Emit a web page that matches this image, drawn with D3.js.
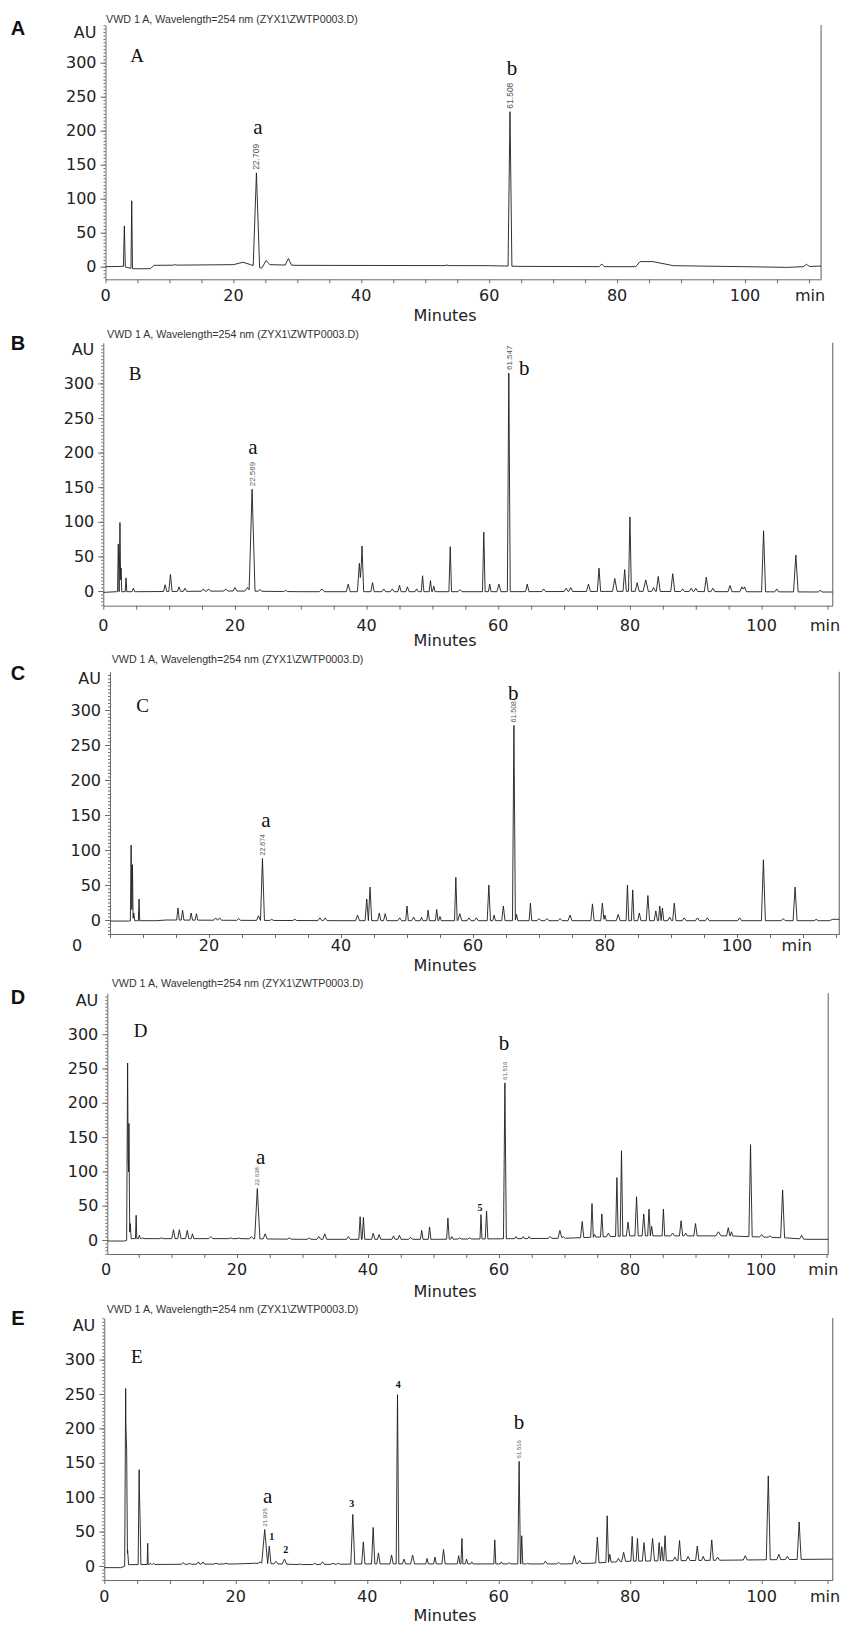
<!DOCTYPE html>
<html>
<head>
<meta charset="utf-8">
<script src="https://cdn.jsdelivr.net/npm/d3@7"></script>
<style>
    body { margin: 0; background: #fff; }
</style>
</head>
<body>
<div id="chart"></div>
<script>
// peaks: [retention time (min), apex height (AU), half base width (min)]
const peaksA = [
    [2.95, 60, 0.15], [4.1, 97, 0.12], [10.9, 3, 0.3],
    [23.6, 138, 0.5], [25.1, 9, 0.6], [28.6, 12, 0.5],
    [53.4, 2.5, 0.3], [63.25, 228, 0.3], [77.6, 4, 0.4], [109.6, 3.5, 0.5]
];
const baselineA = [[0, 0], [2.7, 0.5], [4.3, -3], [7, -3], [7.6, 2], [20, 3], [21.5, 6.5], [22.7, 3],
    [24.3, -2], [25.6, 3], [30, 2], [60, 1.5], [65, 0.5], [80, 0], [82.9, 0], [83.6, 7.5],
    [85.6, 7.5], [88.8, 1.5], [100, 0], [106.5, -1], [111.9, 1]];

const peaksB = [
    [2.28, 68, 0.12], [2.53, 99, 0.12], [2.7, 33, 0.1], [3.45, 19, 0.12], [4.57, 4, 0.2],
    [9.4, 9, 0.25], [10.2, 24, 0.25], [11.5, 6, 0.25], [12.4, 4, 0.25], [15.2, 3, 0.3], [16, 3, 0.3],
    [18.6, 3, 0.3], [20, 5, 0.3], [21.9, 5, 0.4], [22.6, 147, 0.45], [23.8, 2, 0.3], [27.7, 1, 0.3],
    [33.2, 3, 0.4], [37.2, 10, 0.3], [38.9, 40, 0.3], [39.3, 65, 0.25], [40.9, 12, 0.25],
    [42.6, 3, 0.3], [43.9, 3, 0.3], [45, 8, 0.25], [46.2, 6, 0.25], [47.6, 3, 0.25],
    [48.5, 22, 0.2], [49.7, 15, 0.2], [50.2, 7, 0.2], [52.7, 64, 0.2], [54.2, 2, 0.3],
    [57.8, 85, 0.2], [58.7, 10, 0.2], [60.1, 10, 0.3], [61.6, 315, 0.22],
    [64.4, 10, 0.25], [66.9, 3, 0.3], [70.3, 4, 0.3], [71, 5, 0.3], [73.7, 10, 0.3],
    [75.3, 33, 0.25], [77.7, 18, 0.35], [79.2, 31, 0.25], [80, 107, 0.22], [81.1, 12, 0.3],
    [82.4, 16, 0.4], [83.6, 5, 0.3], [84.3, 21, 0.3], [86.5, 25, 0.3], [88, 3, 0.3],
    [89.3, 4, 0.3], [90, 4, 0.3], [91.6, 20, 0.3], [92.6, 4, 0.3], [95.2, 8, 0.3],
    [97, 6, 0.3], [97.4, 6, 0.3], [100.3, 87, 0.3], [102.3, 3, 0.3], [105.2, 52, 0.35], [108.9, 1, 0.3]
];
const baselineB = [[0, -2], [2, -1], [5, -1], [20, 0], [30, -1], [50, -1], [60, -1], [80, -0.5], [110.8, -1.5]];

const peaksC = [
    [8.2, 107, 0.12], [8.4, 79, 0.1], [8.6, 10, 0.15], [9.4, 30, 0.1],
    [15.3, 17, 0.2], [16, 14, 0.2], [17.3, 10, 0.2], [18.1, 9, 0.2], [21, 3, 0.3], [21.6, 3, 0.3],
    [24.5, 2, 0.3], [27.5, 6, 0.3], [28.1, 88, 0.3], [29.5, 1, 0.3], [33, 1, 0.3], [36.8, 3, 0.3],
    [37.6, 3, 0.3], [42.5, 7, 0.3], [43.9, 30, 0.25], [44.4, 47, 0.25], [45.8, 10, 0.25],
    [46.7, 9, 0.25], [48.9, 3, 0.3], [50, 20, 0.2], [51, 4, 0.3],
    [52.2, 4, 0.2], [53.2, 14, 0.2], [54.5, 15, 0.2], [55, 5, 0.2], [57.4, 61, 0.2], [58, 9, 0.3],
    [59.4, 3, 0.3], [60.5, 3, 0.3], [62.4, 50, 0.25], [63.2, 7, 0.2], [64.6, 20, 0.25],
    [66.2, 278, 0.22], [66.6, 8, 0.2], [68.7, 24, 0.2], [70, 2, 0.3], [71.2, 2, 0.3],
    [73.2, 2, 0.3], [74.7, 7, 0.3], [78.1, 23, 0.25], [79.6, 24, 0.25], [80, 7, 0.2], [82, 8, 0.3],
    [83.4, 50, 0.2], [84.2, 43, 0.2], [85.2, 10, 0.25], [86.5, 35, 0.25], [87.7, 13, 0.25],
    [88.3, 20, 0.2], [88.7, 17, 0.2], [89.8, 4, 0.3], [90.5, 24, 0.25], [92, 3, 0.3], [94, 3, 0.3],
    [95.5, 3, 0.3], [100.4, 3, 0.3], [104, 86, 0.3], [107, 2, 0.3], [108.8, 47, 0.3], [112, 1, 0.3]
];
const baselineC = [[5, -1.5], [7.8, -1.5], [9, -1], [12, -1], [13.5, 0], [25, -0.5], [40, -1],
    [60, -1], [100, -1], [114, -1], [114.5, 1], [115.5, 1]];

const peaksD = [
    [3.3, 258, 0.15], [3.5, 170, 0.12], [3.7, 24, 0.15], [4.6, 36, 0.1], [5.1, 7, 0.15], [5.6, 3, 0.2],
    [8.5, 3, 0.3], [10.3, 15, 0.25], [11.2, 15, 0.25], [12.4, 14, 0.25], [13.2, 9, 0.2], [16, 5, 0.3],
    [19, 3, 0.3], [20.3, 3, 0.3], [22.2, 5, 0.3], [23.1, 75, 0.4], [24.3, 9, 0.3], [28, 3, 0.3],
    [31, 3, 0.3], [32.5, 5, 0.3], [33.4, 9, 0.3], [37, 5, 0.3], [38.8, 34, 0.2], [39.3, 33, 0.2],
    [40.8, 10, 0.25], [41.7, 8, 0.25], [43.9, 6, 0.25], [44.8, 7, 0.25], [46.5, 4, 0.3],
    [48.2, 14, 0.2], [49.4, 19, 0.2], [52.2, 32, 0.2], [52.8, 5, 0.2], [54, 3, 0.3], [55.5, 3, 0.3],
    [57.25, 37, 0.15], [58.1, 42, 0.2], [60.9, 229, 0.22], [62.6, 5, 0.2], [63.7, 5, 0.2],
    [64.6, 5, 0.2], [67.8, 5, 0.3], [69.3, 14, 0.3], [69.8, 5, 0.3], [72.7, 27, 0.25],
    [74.2, 53, 0.2], [74.6, 8, 0.2], [75.7, 38, 0.2], [76.7, 10, 0.3], [78, 91, 0.2], [78.7, 130, 0.2],
    [79.7, 26, 0.25], [81, 63, 0.25], [82.1, 38, 0.25], [82.9, 45, 0.2], [83.3, 20, 0.2],
    [85.1, 45, 0.2], [86.5, 10, 0.3], [87.8, 28, 0.25], [88.5, 10, 0.25], [90, 24, 0.25],
    [93.5, 12, 0.4], [95, 18, 0.25], [95.5, 12, 0.2], [96.8, 5, 0.3], [98.4, 139, 0.25],
    [100.1, 8, 0.3], [101.4, 6, 0.3], [103.3, 73, 0.3], [106.2, 7, 0.3]
];
const baselineD = [[0.2, -1.5], [2.8, -1.5], [4, 2], [20, 2], [30, 1], [50, 1], [70, 2.5], [80, 6],
    [95, 6], [104, 3], [107, 1], [110.27, 1]];

const peaksE = [
    [3.25, 258, 0.15], [3.4, 169, 0.12], [3.55, 23, 0.15], [5.3, 140, 0.15], [5.45, 64, 0.12],
    [6.6, 33, 0.08], [7, 4, 0.2], [7.5, 4, 0.2], [12, 5, 0.25], [13, 4, 0.25], [14.3, 6, 0.25],
    [15, 6, 0.25], [17, 4, 0.3], [18.5, 4, 0.3], [23.7, 6, 0.3], [24.4, 53, 0.45], [25.1, 29, 0.25],
    [26.1, 7, 0.3], [27.4, 10, 0.35], [29.8, 3, 0.3], [32, 4, 0.3], [33.2, 6, 0.3], [34.8, 4, 0.3],
    [35.6, 4, 0.3], [37.8, 75, 0.3], [39.4, 35, 0.25], [40.9, 56, 0.25], [41.7, 19, 0.25],
    [43.7, 16, 0.25], [44.6, 249, 0.2], [45.6, 10, 0.25], [46.9, 16, 0.3],
    [49.1, 11, 0.2], [50.3, 13, 0.2], [51.6, 24, 0.25], [53.9, 15, 0.2], [54.4, 40, 0.15],
    [55.1, 10, 0.2], [55.9, 6, 0.2], [59.4, 38, 0.15], [60.4, 6, 0.2], [61.6, 5, 0.2],
    [63.1, 152, 0.2], [63.5, 44, 0.15], [64.4, 4, 0.2], [67.1, 7, 0.3], [69.1, 5, 0.3],
    [71.5, 15, 0.3], [72.3, 8, 0.3], [75, 42, 0.25], [76.5, 73, 0.2], [76.9, 17, 0.2],
    [78.2, 11, 0.3], [79, 20, 0.3], [80.3, 43, 0.2], [81.1, 40, 0.2], [82.1, 34, 0.25],
    [83.4, 40, 0.3], [84.4, 34, 0.2], [84.8, 28, 0.2], [85.3, 44, 0.2], [86.8, 13, 0.3],
    [87.5, 37, 0.25], [88.8, 14, 0.3], [90.2, 29, 0.25], [91.1, 14, 0.25], [92.4, 38, 0.25],
    [93.3, 13, 0.3], [97.5, 15, 0.3], [101, 131, 0.3], [102.6, 17, 0.3], [103.9, 14, 0.3], [105.7, 64, 0.3]
];
const baselineE = [[0, -2.4], [2.5, -2.4], [3.8, 2], [20, 3], [23, 4], [30, 2], [40, 3], [60, 3],
    [70, 3], [74, 4], [80, 7], [100, 9], [110.8, 10]];

// retention time labels printed over the main peaks: [text, time, apex]
const rtA = [["22.709", 23.6, 138], ["61.508", 63.25, 228]];
const rtB = [["22.569", 22.6, 147], ["61.547", 61.6, 315]];
const rtC = [["22.674", 28.1, 88], ["61.508", 66.2, 278]];
const rtD = [["22.638", 23.1, 75], ["61.516", 60.9, 229]];
const rtE = [["21.925", 24.4, 53], ["61.516", 63.1, 152]];

// annotations: [text, time, AU, kind]
const notesA = [["A", 4.93, 311, "tag"], ["a", 23.85, 205, "pk"], ["b", 63.57, 292, "pk"]];
const notesB = [["B", 4.82, 314.6, "tag"], ["a", 22.74, 208.5, "pk"], ["b", 63.95, 321.8, "pk"]];
const notesC = [["C", 9.95, 307, "tag"], ["a", 28.64, 142.9, "pk"], ["b", 66.1, 323.9, "pk"]];
const notesD = [["D", 5.3, 305, "tag"], ["a", 23.62, 121.4, "pk"], ["b", 60.76, 286.7, "pk"], ["5", 57.1, 47.7, "num"]];
const notesE = [["E", 4.93, 304.2, "tag"], ["a", 24.86, 102.2, "pk"], ["b", 63.08, 209.7, "pk"],
    ["1", 25.46, 42.6, "num"], ["2", 27.6, 24.3, "num"], ["3", 37.63, 91.1, "num"], ["4", 44.72, 264.1, "num"]];

const xTickLabels = [0, 20, 40, 60, 80, 100];
const yTickLabels = [0, 50, 100, 150, 200, 250, 300];
const header = "VWD 1 A, Wavelength=254 nm (ZYX1\\ZWTP0003.D)";

const panels = [
    { id: "A", peaks: peaksA, base: baselineA, rt: rtA, notes: notesA,
      x0: 105.5, k: 6.395, t0: 0, t1: 111.9, y0: 266.7, ky: 0.68, yB: 279.3, yT: 25,
      head: [106, 19], tag: 28, labDy: 16, minX: 810, minutesY: 315, rtSize: 8.5 },
    { id: "B", peaks: peaksB, base: baselineB, rt: rtB, notes: notesB,
      x0: 103.3, k: 6.583, t0: 0, t1: 110.8, y0: 591, ky: 0.692, yB: 605.7, yT: 342.7,
      head: [107, 334], tag: 343, labDy: 20, minX: 825, minutesY: 640.7, rtSize: 8 },
    { id: "C", peaks: peaksC, base: baselineC, rt: rtC, notes: notesC,
      x0: 77, k: 6.6, t0: 5, t1: 115.5, y0: 920, ky: 0.70, yB: 934, yT: 671.7,
      head: [111.7, 659.3], tag: 672.7, labDy: 11, minX: 796.7, minutesY: 965, rtSize: 7 },
    { id: "D", peaks: peaksD, base: baselineD, rt: rtD, notes: notesD,
      x0: 106, k: 6.55, t0: 0.2, t1: 110.27, y0: 1240, ky: 0.686, yB: 1254, yT: 993.3,
      head: [111.7, 983.3], tag: 996.7, labDy: 15, minX: 823.3, minutesY: 1291.7, rtSize: 6 },
    { id: "E", peaks: peaksE, base: baselineE, rt: rtE, notes: notesE,
      x0: 104.3, k: 6.574, t0: 0, t1: 110.8, y0: 1566, ky: 0.688, yB: 1580, yT: 1318,
      head: [106.7, 1309], tag: 1318.3, labDy: 16, minX: 825, minutesY: 1615, rtSize: 6 }
];

const sans = "DejaVu Sans, sans-serif";
const arial = "Liberation Sans, Arial, sans-serif";
const serif = "Liberation Serif, Times New Roman, serif";

const svg = d3.select("#chart")
    .append("svg")
    .attr("width", 842)
    .attr("height", 1626);

// trace = baseline plus triangular peaks (upper envelope)
function trace(p) {
    const baseAt = d3.scaleLinear()
        .domain(p.base.map(d => d[0]))
        .range(p.base.map(d => d[1]))
        .clamp(true);
    let ts = p.base.map(d => d[0]);
    p.peaks.forEach(([t, h, w]) => ts.push(t - w, t, t + w));
    ts = Array.from(new Set(ts.filter(t => t >= p.t0 && t <= p.t1))).sort((a, b) => a - b);
    return ts.map(t => {
        const b = baseAt(t);
        let v = b;
        p.peaks.forEach(([pt, h, w]) => {
            const f = 1 - Math.abs(t - pt) / w;
            if (f > 0) v = Math.max(v, b + (h - baseAt(pt)) * f);
        });
        return [t, v];
    });
}

panels.forEach(p => {
    const g = svg.append("g").attr("class", "panel-" + p.id);

    const v0 = (p.y0 - p.yB) / p.ky;   // below zero
    const v1 = (p.y0 - p.yT) / p.ky;
    const x = d3.scaleLinear().domain([p.t0, p.t1]).range([p.x0 + p.k * p.t0, p.x0 + p.k * p.t1]);
    const y = d3.scaleLinear().domain([v0, v1]).range([p.yB, p.yT]);
    const axX = x(p.t0);

    // right frame line
    g.append("line")
        .attr("x1", x(p.t1)).attr("x2", x(p.t1))
        .attr("y1", p.yT).attr("y2", p.yB)
        .attr("stroke", "#8a8a8a")
        .attr("stroke-width", 1.4);

    // x axis
    const xAxis = g.append("g")
        .attr("transform", `translate(0,${p.yB})`)
        .call(d3.axisBottom(x)
            .tickValues(d3.range(Math.ceil(p.t0 / 5) * 5, p.t1 + 0.01, 5))
            .tickSize(4)
            .tickSizeOuter(0)
            .tickFormat(""));
    xAxis.select(".domain").attr("stroke", "#6a6a6a");
    xAxis.selectAll(".tick line").attr("stroke", "#6a6a6a");

    // y axis, minor then major
    const yMinor = g.append("g")
        .attr("transform", `translate(${axX},0)`)
        .call(d3.axisLeft(y)
            .tickValues(d3.range(Math.ceil(v0 / 5) * 5, v1, 5))
            .tickSize(2)
            .tickSizeOuter(0)
            .tickFormat(""));
    yMinor.select(".domain").attr("stroke", "#6a6a6a");
    yMinor.selectAll(".tick line").attr("stroke", "#6a6a6a");

    const yAxis = g.append("g")
        .attr("transform", `translate(${axX},0)`)
        .call(d3.axisLeft(y)
            .tickValues(yTickLabels)
            .tickSize(5)
            .tickPadding(4)
            .tickSizeOuter(0));
    yAxis.select(".domain").remove();
    yAxis.selectAll(".tick line").attr("stroke", "#6a6a6a");
    yAxis.selectAll(".tick text")
        .attr("font-family", sans)
        .attr("font-size", 16)
        .attr("fill", "#222");

    // AU unit on top of the y axis
    g.append("text")
        .attr("x", axX - 9)
        .attr("y", p.yT + 7)
        .attr("text-anchor", "end")
        .attr("dominant-baseline", "central")
        .attr("font-family", sans)
        .attr("font-size", 16)
        .attr("fill", "#222")
        .text("AU");

    // x tick labels
    g.selectAll(".xlab")
        .data(xTickLabels)
        .enter().append("text")
        .attr("class", "xlab")
        .attr("x", d => x(d))
        .attr("y", p.yB + p.labDy)
        .attr("text-anchor", "middle")
        .attr("dominant-baseline", "central")
        .attr("font-family", sans)
        .attr("font-size", 16)
        .attr("fill", "#222")
        .text(d => d);

    g.append("text")
        .attr("x", p.minX)
        .attr("y", p.yB + p.labDy)
        .attr("text-anchor", "middle")
        .attr("dominant-baseline", "central")
        .attr("font-family", sans)
        .attr("font-size", 16)
        .attr("fill", "#222")
        .text("min");

    g.append("text")
        .attr("x", 445)
        .attr("y", p.minutesY)
        .attr("text-anchor", "middle")
        .attr("dominant-baseline", "central")
        .attr("font-family", sans)
        .attr("font-size", 16)
        .attr("fill", "#222")
        .text("Minutes");

    // header line
    g.append("text")
        .attr("x", p.head[0])
        .attr("y", p.head[1])
        .attr("dominant-baseline", "central")
        .attr("font-family", arial)
        .attr("font-size", 10.7)
        .attr("fill", "#333")
        .text(header);

    // bold panel tag on the left
    g.append("text")
        .attr("x", 18)
        .attr("y", p.tag)
        .attr("text-anchor", "middle")
        .attr("dominant-baseline", "central")
        .attr("font-family", arial)
        .attr("font-weight", "bold")
        .attr("font-size", 20)
        .attr("fill", "#111")
        .text(p.id);

    // chromatogram
    const line = d3.line()
        .x(d => x(d[0]))
        .y(d => y(d[1]));
    g.append("path")
        .datum(trace(p))
        .attr("fill", "none")
        .attr("stroke", "#1c1c1c")
        .attr("stroke-width", 0.9)
        .attr("stroke-linejoin", "round")
        .attr("d", line);

    // retention time labels
    g.selectAll(".rt")
        .data(p.rt)
        .enter().append("text")
        .attr("class", "rt")
        .attr("transform", d => `translate(${x(d[1]) + p.rtSize * 0.36},${y(d[2]) - 3}) rotate(-90)`)
        .attr("font-family", arial)
        .attr("font-size", p.rtSize)
        .attr("fill", "#555")
        .text(d => d[0]);

    // peak letters and numbers
    const styles = {
        tag: { size: 19, weight: "normal" },
        pk: { size: 21, weight: "normal" },
        num: { size: 10, weight: "bold" }
    };
    g.selectAll(".note")
        .data(p.notes)
        .enter().append("text")
        .attr("class", "note")
        .attr("x", d => x(d[1]))
        .attr("y", d => y(d[2]))
        .attr("text-anchor", "middle")
        .attr("dominant-baseline", "central")
        .attr("font-family", serif)
        .attr("font-size", d => styles[d[3]].size)
        .attr("font-weight", d => styles[d[3]].weight)
        .attr("fill", "#111")
        .text(d => d[0]);
});
</script>
</body>
</html>
